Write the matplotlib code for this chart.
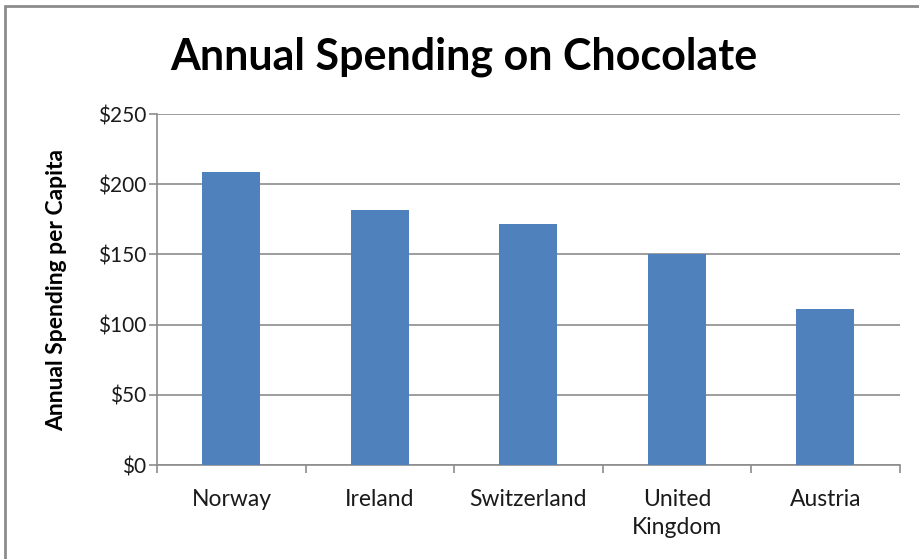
import matplotlib
matplotlib.use("Agg")
import matplotlib.pyplot as plt
from matplotlib.patches import Rectangle
from matplotlib.ticker import FuncFormatter, MultipleLocator

categories = ["Norway", "Ireland", "Switzerland", "United\nKingdom", "Austria"]
values = [209, 182, 172, 150, 111]

plt.rcParams['font.family'] = ['Lato', 'DejaVu Sans']

fig = plt.figure(figsize=(9.19, 5.59), dpi=100)
ax = fig.add_axes([0.171, 0.168, 0.808, 0.628])

x = list(range(len(categories)))
ax.bar(x, values, width=0.39, color="#4F81BD", zorder=3)
ax.set_xlim(-0.5, len(categories) - 0.5)
ax.set_ylim(0, 250)
ax.yaxis.set_major_locator(MultipleLocator(50))
ax.yaxis.set_major_formatter(FuncFormatter(lambda v, p: f"${int(v)}"))
ax.grid(axis="y", color="#8C8C8C", linewidth=1.2, zorder=0)

ax.set_xticks(x)
ax.set_xticklabels(categories, fontsize=16.5, linespacing=1.45, color="#1a1a1a")
ax.set_xticks([i - 0.5 for i in range(len(categories) + 1)], minor=True)
ax.tick_params(axis="x", which="major", length=0, pad=17)
ax.tick_params(axis="x", which="minor", length=6, color="#8C8C8C", width=1.2)
ax.tick_params(axis="y", length=6, color="#8C8C8C", width=1.2, labelsize=15, pad=2,
               labelcolor="#1a1a1a")

for s in ["top", "right"]:
    ax.spines[s].set_visible(False)
for s in ["left", "bottom"]:
    ax.spines[s].set_color("#8C8C8C")
    ax.spines[s].set_linewidth(1.2)

ax.set_ylabel("Annual Spending per Capita", fontsize=16.5, fontweight="bold", labelpad=22)
fig.text(0.505, 0.898, "Annual Spending on Chocolate", ha="center", va="center",
         fontsize=31, fontweight="bold")

fig.patches.append(Rectangle((0.005, -0.05), 1.2, 1.04, transform=fig.transFigure,
                             fill=False, edgecolor="#8C8C8C", linewidth=2))

fig.savefig("out.png", dpi=100)
